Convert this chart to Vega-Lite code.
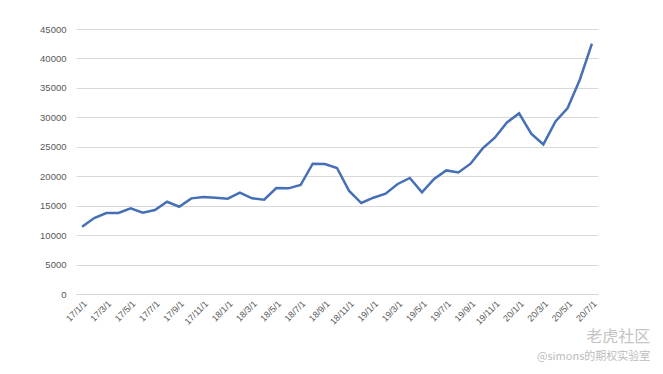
{
  "$schema": "https://vega.github.io/schema/vega-lite/v6.json",
  "autosize": {"type": "none"},
  "padding": {"left": 76, "top": 29, "right": 65, "bottom": 80},
  "width": 522,
  "height": 265,
  "background": "white",
  "config": {"view": {"stroke": null}, "font": "Liberation Sans"},
  "data": {"values": [
    {"d": "17/1/1", "v": 11430}, {"d": "17/2/1", "v": 12900}, {"d": "17/3/1", "v": 13750},
    {"d": "17/4/1", "v": 13750}, {"d": "17/5/1", "v": 14540}, {"d": "17/6/1", "v": 13800},
    {"d": "17/7/1", "v": 14260}, {"d": "17/8/1", "v": 15670}, {"d": "17/9/1", "v": 14820},
    {"d": "17/10/1", "v": 16240}, {"d": "17/11/1", "v": 16470}, {"d": "17/12/1", "v": 16350},
    {"d": "18/1/1", "v": 16180}, {"d": "18/2/1", "v": 17200}, {"d": "18/3/1", "v": 16240},
    {"d": "18/4/1", "v": 16010}, {"d": "18/5/1", "v": 18000}, {"d": "18/6/1", "v": 17940},
    {"d": "18/7/1", "v": 18510}, {"d": "18/8/1", "v": 22130}, {"d": "18/9/1", "v": 22080},
    {"d": "18/10/1", "v": 21400}, {"d": "18/11/1", "v": 17490}, {"d": "18/12/1", "v": 15450},
    {"d": "19/1/1", "v": 16350}, {"d": "19/2/1", "v": 17030}, {"d": "19/3/1", "v": 18680},
    {"d": "19/4/1", "v": 19700}, {"d": "19/5/1", "v": 17250}, {"d": "19/6/1", "v": 19530},
    {"d": "19/7/1", "v": 20990}, {"d": "19/8/1", "v": 20650}, {"d": "19/9/1", "v": 22130},
    {"d": "19/10/1", "v": 24730}, {"d": "19/11/1", "v": 26540}, {"d": "19/12/1", "v": 29140},
    {"d": "20/1/1", "v": 30670}, {"d": "20/2/1", "v": 27220}, {"d": "20/3/1", "v": 25400},
    {"d": "20/4/1", "v": 29310}, {"d": "20/5/1", "v": 31580}, {"d": "20/6/1", "v": 36390},
    {"d": "20/7/1", "v": 42500}
  ]},
  "title": {
    "text": "老虎社区",
    "subtitle": "@simons的期权实验室",
    "orient": "bottom",
    "anchor": "end",
    "dx": 52,
    "offset": 3,
    "font": "Noto Sans CJK SC",
    "fontSize": 16,
    "fontWeight": "normal",
    "color": "#c4c4c4",
    "subtitleFont": "Noto Sans CJK SC",
    "subtitleFontSize": 11,
    "subtitleColor": "#bdbdbd",
    "subtitlePadding": 6
  },
  "mark": {"type": "line", "color": "#4570b6", "strokeWidth": 2.5},
  "encoding": {
    "x": {
      "field": "d", "type": "ordinal", "sort": null,
      "scale": {"type": "point", "padding": 0.5},
      "axis": {
        "title": null,
        "values": ["17/1/1","17/3/1","17/5/1","17/7/1","17/9/1","17/11/1","18/1/1","18/3/1","18/5/1","18/7/1","18/9/1","18/11/1","19/1/1","19/3/1","19/5/1","19/7/1","19/9/1","19/11/1","20/1/1","20/3/1","20/5/1","20/7/1"],
        "labelAngle": -45,
        "labelFontSize": 9,
        "labelColor": "#595959",
        "ticks": false,
        "domain": true,
        "domainColor": "#d9d9d9",
        "labelPadding": 5,
        "grid": false
      }
    },
    "y": {
      "field": "v", "type": "quantitative",
      "scale": {"domain": [0, 45000]},
      "axis": {
        "title": null,
        "values": [0,5000,10000,15000,20000,25000,30000,35000,40000,45000],
        "format": "d",
        "labelFontSize": 9.5,
        "labelColor": "#595959",
        "ticks": false,
        "domain": false,
        "gridColor": "#d9d9d9",
        "labelPadding": 10
      }
    }
  }
}
